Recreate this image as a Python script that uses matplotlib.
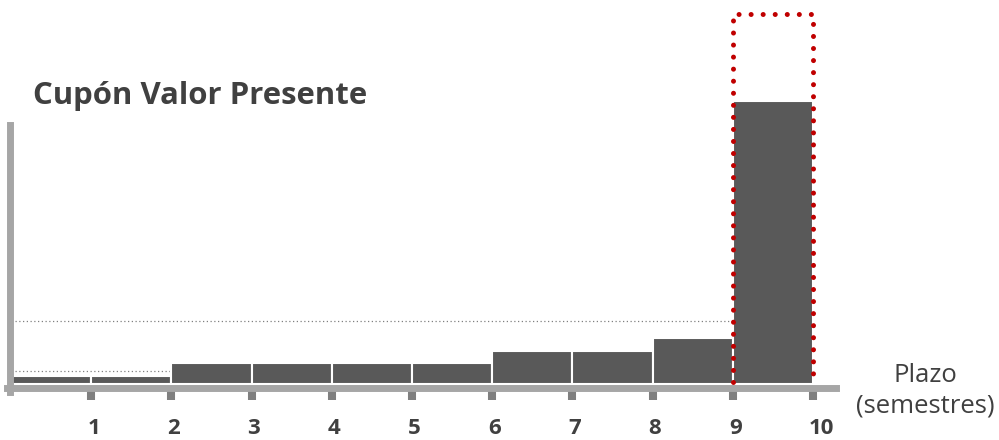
import matplotlib.pyplot as plt
from matplotlib.transforms import offset_copy

plt.rcParams['font.family'] = ['Open Sans', 'DejaVu Sans']

# present value of each coupon, by semester
plazo = [1, 2, 3, 4, 5, 6, 7, 8, 9, 10]
valor = [8, 8, 21, 21, 21, 21, 33, 33, 46, 283]
ref_alta = 63   # dotted guide at the old last coupon level
ref_baja = 13   # dotted guide over the first two coupons
caja_alto = 370

BAR = '#595959'
AXIS = '#A6A6A6'
TICK = '#7F7F7F'
TEXT = '#404040'
RED = '#C00000'

fig = plt.figure(figsize=(9.99, 4.4), dpi=100)
ax = fig.add_axes([0, 0, 1, 1])
ax.set_xlim(-11 / 80.2, 988 / 80.2)
ax.set_ylim(-56, 384)

# guides
ax.hlines(ref_alta, 0.05, plazo[-2], colors='#808080', linestyles=(0, (1, 2)), lw=0.9, zorder=1)
ax.hlines(ref_baja, 0.05, plazo[1], colors='#808080', linestyles=(0, (1, 2)), lw=0.9, zorder=1)

# bars span each semester interval [t-1, t]
ax.bar([p - 0.5 for p in plazo], valor, width=1, color=BAR,
       edgecolor='white', linewidth=1.5, zorder=2)

# highlight box around the last payment
ax.plot([plazo[-2], plazo[-2], plazo[-1], plazo[-1]], [2, caja_alto, caja_alto, 2],
        color=RED, lw=3.6, linestyle=(0, (0.01, 2.4)), dash_capstyle='round',
        solid_capstyle='round', zorder=3)

# axes drawn as thick grey bars
for s in ['top', 'right']:
    ax.spines[s].set_visible(False)
ax.spines['bottom'].set_position(('data', -4))
ax.spines['left'].set_position(('data', -0.0125))
ax.spines['bottom'].set_bounds(-0.05, 10.29)
ax.spines['left'].set_bounds(-7.5, 259)
for s in ['bottom', 'left']:
    ax.spines[s].set_color(AXIS)
    ax.spines[s].set_linewidth(5.0)

ax.set_yticks([])
ax.set_xticks(plazo)
ax.set_xticklabels([str(p) for p in plazo], fontsize=16, fontweight='bold', color=TEXT)
ax.tick_params(axis='x', direction='out', length=8.6, width=5.8, color=TICK, pad=13)
for lbl in ax.get_xticklabels():
    lbl.set_horizontalalignment('left')
    lbl.set_transform(offset_copy(lbl.get_transform(), fig=fig, x=-4, units='dots'))

fig.text(33 / 999, 1 - 104 / 440, 'Cupón Valor Presente', fontsize=22.4, fontweight='bold',
         color=TEXT, ha='left', va='baseline')
fig.text(925 / 999, 1 - 382 / 440, 'Plazo', fontsize=18.5, color=TEXT,
         ha='center', va='baseline')
fig.text(925 / 999, 1 - 412 / 440, '(semestres)', fontsize=18.5, color=TEXT,
         ha='center', va='baseline')

fig.savefig('out.png', dpi=100)
